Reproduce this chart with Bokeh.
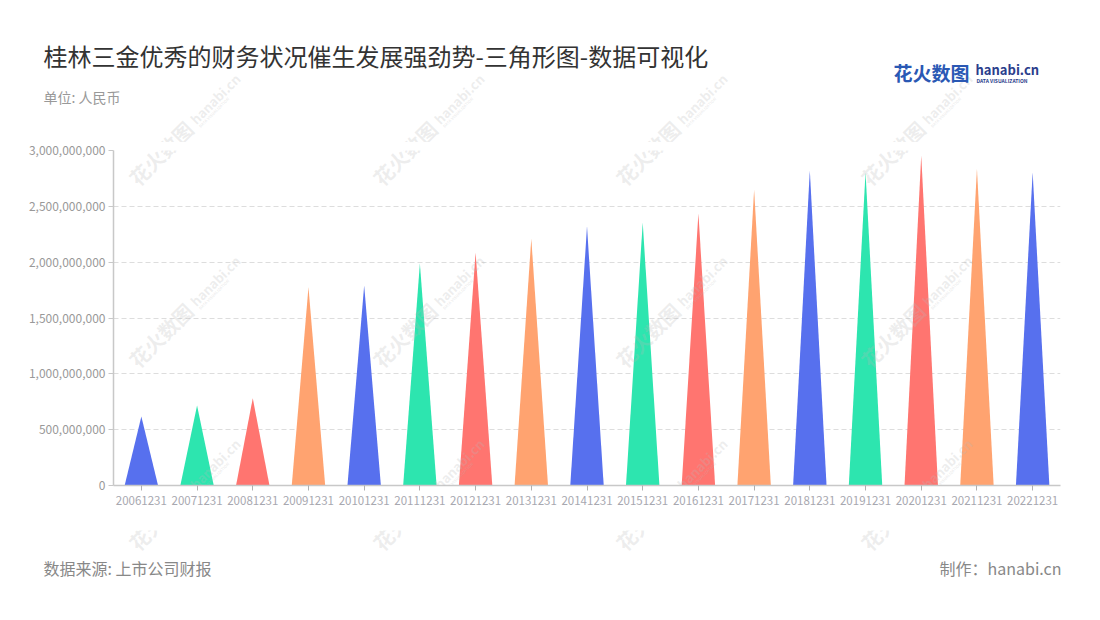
import math
from bokeh.plotting import figure
from bokeh.layouts import column
from bokeh.models import Range1d, FixedTicker, NumeralTickFormatter, Label, ColumnDataSource
from bokeh.core.properties import value
from bokeh.embed import file_html
from bokeh.resources import INLINE

# ---- data ----
categories = ["20061231", "20071231", "20081231", "20091231", "20101231", "20111231",
              "20121231", "20131231", "20141231", "20151231", "20161231", "20171231",
              "20181231", "20191231", "20201231", "20211231", "20221231"]
values = [618e6, 716e6, 782e6, 1776e6, 1791e6, 1988e6, 2087e6, 2212e6, 2319e6,
          2355e6, 2436e6, 2651e6, 2821e6, 2806e6, 2955e6, 2836e6, 2806e6]
palette = ["#5770ee", "#2de5af", "#ff7570", "#ffa370"]
y_ticks = [0, 500e6, 1000e6, 1500e6, 2000e6, 2500e6, 3000e6]

title_text = "桂林三金优秀的财务状况催生发展强劲势-三角形图-数据可视化"
unit_text = "单位: 人民币"
source_text = "数据来源: 上市公司财报"
maker_text = "制作：hanabi.cn"
logo_cn = "花火数图"
logo_en = "hanabi.cn"
logo_sub = "DATA VISUALIZATION"

FONT = "Noto Sans CJK SC"
W = 1084
HEAD_H = 142          # header band: page y 0..142
MAIN_TOP = 142
MAIN_BOT = 530        # main figure: page y 142..530
TOTAL_H = 604
FL, FR, FT, FB = 113, 1060, 150, 485  # frame box (page px)

# watermark layout (page px): centers of a repeating, rotated stamp
wm_centers = [(cx, cy) for cy in [130, 312, 495] for cx in [183, 427, 670, 915]]
WM_COLOR, WM_ALPHA = "#b8b8b8", 0.25
ANG = math.pi / 4
DX, DY = math.cos(ANG), -math.sin(ANG)   # page direction (up-right)


def wm_pieces(cx, cy):
    sx, sy = cx - 72 * DX, cy - 72 * DY
    return [(sx, sy, logo_cn, "20px"),
            (sx + 85 * DX, sy + 85 * DY, logo_en, "13px"),
            (sx + 86 * DX + 6, sy + 86 * DY + 6, logo_sub, "4px")]


def band_figure(top, bottom):
    f = figure(width=W, height=bottom - top, output_backend="svg", toolbar_location=None,
               x_range=Range1d(0, W), y_range=Range1d(bottom, top),
               x_axis_type=None, y_axis_type=None,
               min_border=0, min_border_left=0, min_border_right=0,
               min_border_top=0, min_border_bottom=0, frame_align=False)
    f.outline_line_color = None
    f.xgrid.visible = False
    f.ygrid.visible = False
    return f


def band_text(f, x, y, text, size, color, align="left", bold=False, angle=0.0, alpha=1.0):
    f.text(x=[x], y=[y], text=[text], text_font=value(FONT), text_font_size=value(size),
           text_color=color, text_align=value(align), text_baseline=value("middle"),
           text_font_style=value("bold" if bold else "normal"), angle=angle,
           text_alpha=alpha)


def band_watermarks(f, top, bottom):
    for cx, cy in wm_centers:
        if cy - 80 > bottom or cy + 80 < top:
            continue
        for x, y, t, s in wm_pieces(cx, cy):
            band_text(f, x, y, t, s, WM_COLOR, bold=True, angle=ANG, alpha=WM_ALPHA)


# ---------- header ----------
head = band_figure(0, HEAD_H)
band_watermarks(head, 0, HEAD_H)
band_text(head, 43, 55, title_text, "24px", "#333333")
band_text(head, 43, 96, unit_text, "14px", "#999999")
band_text(head, 893, 72, logo_cn, "19px", "#2a58b4", bold=True)
band_text(head, 975, 69, logo_en, "13px", "#2b3e8c", bold=True)
band_text(head, 976, 80, logo_sub, "5px", "#2b3e8c", bold=True)

# ---------- main chart ----------
p = figure(width=W, height=MAIN_BOT - MAIN_TOP, output_backend="svg", toolbar_location=None,
           x_range=Range1d(0, len(categories)), y_range=Range1d(0, 3e9),
           min_border_left=FL, min_border_right=W - FR,
           min_border_top=FT - MAIN_TOP, min_border_bottom=MAIN_BOT - FB,
           frame_align=False)
p.outline_line_color = None

half = 0.3
xs, ys, cols = [], [], []
for i, v in enumerate(values):
    c = i + 0.5
    xs.append([c - half, c, c + half])
    ys.append([0, v, 0])
    cols.append(palette[i % len(palette)])
src = ColumnDataSource(dict(xs=xs, ys=ys, color=cols))
p.patches("xs", "ys", source=src, fill_color="color", line_color=None, fill_alpha=1.0)

p.xaxis.ticker = FixedTicker(ticks=[i + 0.5 for i in range(len(categories))])
p.xaxis.major_label_overrides = {i + 0.5: c for i, c in enumerate(categories)}
p.xaxis.minor_tick_line_color = None
p.xaxis.major_tick_out = 5
p.xaxis.major_tick_in = 0
p.xaxis.axis_line_color = "#c8c8c8"
p.xaxis.axis_line_width = 1.5
p.xaxis.major_tick_line_color = "#b0b0b0"
p.xaxis.major_label_text_color = "#a8a8b0"
p.xaxis.major_label_text_font = FONT
p.xaxis.major_label_text_font_size = "11.5px"
p.xaxis.major_label_standoff = 5

p.yaxis.ticker = FixedTicker(ticks=y_ticks)
p.yaxis.formatter = NumeralTickFormatter(format="0,0")
p.yaxis.minor_tick_line_color = None
p.yaxis.major_tick_out = 5
p.yaxis.major_tick_in = 0
p.yaxis.axis_line_color = "#c8c8c8"
p.yaxis.axis_line_width = 1.5
p.yaxis.major_tick_line_color = "#c8c8c8"
p.yaxis.major_label_text_color = "#999999"
p.yaxis.major_label_text_font = FONT
p.yaxis.major_label_text_font_size = "12px"
p.yaxis.major_label_standoff = 3

p.xgrid.grid_line_color = None
p.ygrid.grid_line_color = "#dddddd"
p.ygrid.grid_line_dash = "5 3"
p.ygrid.ticker = FixedTicker(ticks=y_ticks[1:])

for cx, cy in wm_centers:
    for x, y, t, s in wm_pieces(cx, cy):
        p.add_layout(Label(x=x - FL, y=FB - y, x_units="screen", y_units="screen",
                           text=t, text_font=FONT, text_font_size=s,
                           text_color=WM_COLOR, text_alpha=WM_ALPHA, text_align="left",
                           text_baseline="middle", text_font_style="bold", angle=ANG))

# ---------- footer ----------
foot = band_figure(MAIN_BOT, TOTAL_H)
band_watermarks(foot, MAIN_BOT, TOTAL_H)
band_text(foot, 43, 567, source_text, "16px", "#888888")
band_text(foot, 1061, 567, maker_text, "16px", "#888888", align="right")

layout = column(head, p, foot, spacing=0)
open("out.html", "w").write(file_html(layout, INLINE))
